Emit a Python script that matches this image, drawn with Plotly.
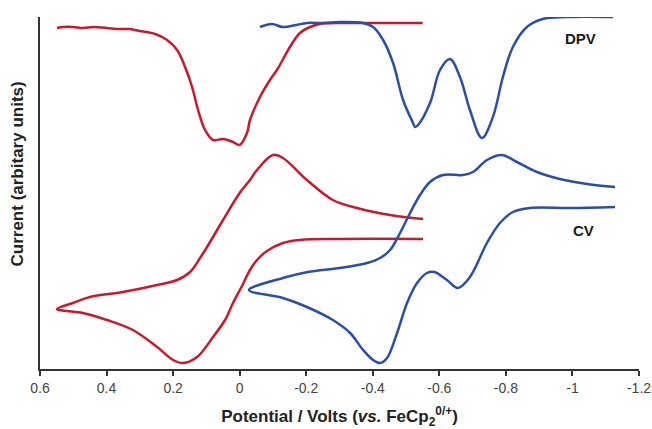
import plotly.graph_objects as go

# Red DPV
red_dpv_v = [0.549, 0.530, 0.501, 0.470, 0.440, 0.399, 0.360, 0.330, 0.300, 0.254, 0.218, 0.188, 0.164,
             0.143, 0.125, 0.104, 0.080, 0.050, 0.020, 0.0, -0.022, -0.031, -0.061, -0.091,
             -0.112, -0.151, -0.181, -0.211, -0.241, -0.300, -0.353, -0.452, -0.550]
red_dpv_i = [341, 342, 342, 341, 342, 341, 340, 340, 338, 335, 329, 319, 302,
             282, 259, 239, 229, 230, 227, 224, 236, 249, 272, 289,
             299, 322, 336, 342, 345, 346, 346, 346, 346]

# Blue DPV
blue_dpv_v = [-0.061, -0.097, -0.130, -0.170, -0.202, -0.250, -0.301, -0.371, -0.401, -0.431, -0.461,
              -0.491, -0.521, -0.527, -0.536, -0.572, -0.602, -0.632, -0.662, -0.692,
              -0.728, -0.761, -0.791, -0.821, -0.863, -0.911, -0.984, -1.122]
blue_dpv_i = [342, 345, 342, 344, 346, 346, 347, 346, 342, 329, 306,
              269, 246, 242, 244, 266, 299, 310, 292, 259,
              231, 252, 292, 322, 342, 350, 352, 352]

# Red CV (lower branch right->left, vertex, upper branch left->right)
red_cv_v = [-0.551, -0.301, -0.181, -0.130, -0.082, -0.055, -0.031, -0.007, 0.020, 0.044, 0.080,
            0.128, 0.170, 0.200, 0.248, 0.321, 0.399, 0.471, 0.549,
            0.501, 0.450, 0.351, 0.248, 0.188, 0.149, 0.119, 0.098, 0.050, 0.0, -0.031,
            -0.052, -0.100, -0.130, -0.202, -0.280, -0.353, -0.452, -0.551]
red_cv_i = [130, 130, 129, 126, 118, 110, 99, 83, 66, 49, 32,
            12, 6, 9, 22, 39, 49, 56, 60,
            66, 72, 77, 84, 89, 97, 111, 122, 149, 176, 189,
            199, 214, 211, 189, 169, 161, 154, 150]

# Blue CV (upper branch right->left, vertex, lower branch left->right)
blue_cv_v = [-1.128, -1.044, -0.962, -0.893, -0.833, -0.788, -0.743, -0.701, -0.671, -0.611,
             -0.572, -0.542, -0.512, -0.482, -0.452, -0.422, -0.383, -0.301, -0.205, -0.130,
             -0.028,
             -0.130, -0.202, -0.280, -0.332, -0.371, -0.401, -0.422, -0.443, -0.473, -0.503,
             -0.533, -0.563, -0.585, -0.623, -0.656, -0.692, -0.743, -0.782, -0.821,
             -0.872, -0.993, -1.128]
blue_cv_i = [182, 185, 190, 197, 207, 214, 209, 197, 194, 194,
             187, 174, 156, 136, 119, 111, 106, 101, 97, 91,
             79,
             71, 62, 49, 36, 19, 9, 6, 11, 36, 66,
             86, 96, 97, 89, 81, 92, 126, 146, 157,
             161, 161, 162]

tick_vals = [0.6, 0.4, 0.2, 0.0, -0.2, -0.4, -0.6, -0.8, -1.0, -1.2]
tick_text = ["0.6", "0.4", "0.2", "0", "-0.2", "-0.4", "-0.6", "-0.8", "-1", "-1.2"]

RED = "#c8192e"
BLUE = "#2a4fa5"

fig = go.Figure()
for xs, ys, c in [(red_dpv_v, red_dpv_i, RED), (blue_dpv_v, blue_dpv_i, BLUE),
                  (red_cv_v, red_cv_i, RED), (blue_cv_v, blue_cv_i, BLUE)]:
    fig.add_trace(go.Scatter(x=xs, y=ys, mode="lines",
                             line=dict(color=c, width=2.5, shape="spline", smoothing=1.0),
                             showlegend=False, hoverinfo="skip"))

fig.add_annotation(x=-1.023, y=331, text="<b>DPV</b>", showarrow=False,
                   font=dict(size=15, color="#1a1a1a", family="Liberation Sans, Arial"))
fig.add_annotation(x=-1.032, y=139, text="<b>CV</b>", showarrow=False,
                   font=dict(size=15, color="#1a1a1a", family="Liberation Sans, Arial"))
fig.add_annotation(xref="paper", yref="paper", x=-0.037, y=0.555, textangle=-90,
                   xanchor="center", yanchor="middle", showarrow=False,
                   text="<b>Current (arbitary units)</b>",
                   font=dict(size=17, color="#222222", family="Liberation Sans, Arial"))

fig.update_layout(
    width=652, height=429,
    margin=dict(l=40, r=13, t=17, b=60),
    plot_bgcolor="white", paper_bgcolor="white",
    font=dict(family="Liberation Sans, Arial", color="#404040", size=14),
    xaxis=dict(range=[0.6, -1.2], tickvals=tick_vals, ticktext=tick_text, automargin=False,
               showgrid=False, zeroline=False, showline=True, linecolor="#333333",
               linewidth=2, ticks="outside", ticklen=5, tickwidth=1.5, tickcolor="#333333",
               tickfont=dict(size=14, color="#444444"),
               title=dict(text="<b>Potential / Volts (<i>vs.</i> FeCp<sub>2</sub><sup>0/+</sup>)</b>",
                          font=dict(size=17, color="#222222"), standoff=20)),
    yaxis=dict(range=[0, 352], showticklabels=False, ticks="", showgrid=False, automargin=False,
               zeroline=False, showline=True, linecolor="#333333", linewidth=2),
)

fig.write_html("out.html", config={"displayModeBar": False},
               post_script="document.body.style.margin='0';document.body.style.overflow='hidden';")
